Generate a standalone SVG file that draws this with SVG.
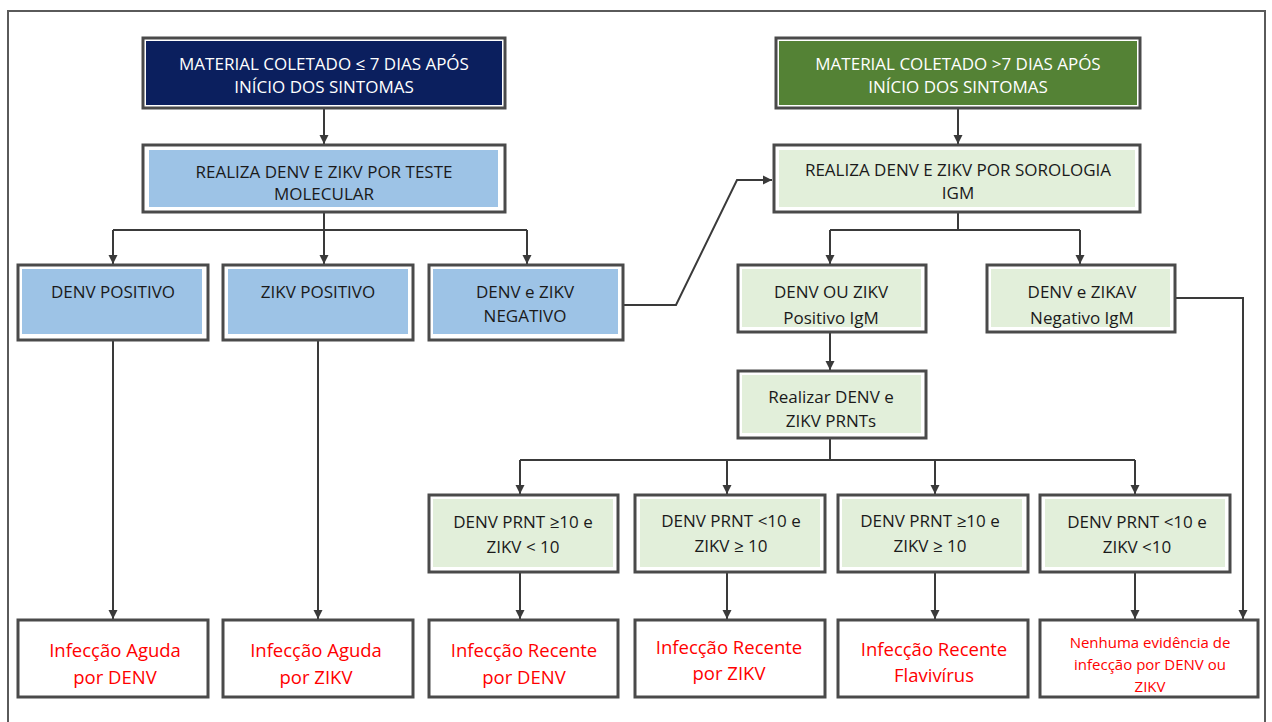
<svg xmlns="http://www.w3.org/2000/svg" width="1272" height="722" viewBox="0 0 1272 722">
  <defs>
    <marker id="arrow" viewBox="0 0 10 10" refX="10" refY="5" markerWidth="9" markerHeight="10" markerUnits="userSpaceOnUse" orient="auto">
      <path d="M0,0 L10,5 L0,10 z" fill="#3a3a3a"/>
    </marker>
    <style>
      .frame { fill: none; stroke: #5a5a5a; stroke-width: 2; }
      .box { fill: #ffffff; stroke: #4a4a4a; stroke-width: 3; }
      .navy { fill: #0b1f5e; }
      .green { fill: #548235; }
      .blue { fill: #9dc3e6; }
      .pale { fill: #e2efda; }
      .link { fill: none; stroke: #3a3a3a; stroke-width: 2; }
      .arr { marker-end: url(#arrow); }
      text { font-family: "Open Sans", "Liberation Sans", sans-serif; text-anchor: middle; }
      .hdr { fill: #ffffff; font-size: 17px; }
      .lbl { fill: #1a1a1a; font-size: 17px; }
      .res { fill: #ff0000; font-size: 18.5px; }
      .res-sm { fill: #ff0000; font-size: 15px; }
    </style>
  </defs>

  <rect x="0" y="0" width="1272" height="722" fill="#ffffff"/>
  <path class="frame" d="M8,730 V11 H1265 V730"/>

  <!-- connectors -->
  <g id="connectors">
    <path class="link arr" d="M324,108 V144"/>
    <path class="link" d="M324,212 V230 M113,230 H527"/>
    <path class="link arr" d="M113,230 V264"/>
    <path class="link arr" d="M324,230 V264"/>
    <path class="link arr" d="M527,230 V264"/>
    <path class="link arr" d="M113,340 V619"/>
    <path class="link arr" d="M318,340 V619"/>
    <path class="link arr" d="M623,305 H676 L737,180 H772"/>

    <path class="link arr" d="M958,108 V144"/>
    <path class="link" d="M958,212 V230 M830,230 H1080"/>
    <path class="link arr" d="M830,230 V264"/>
    <path class="link arr" d="M1080,230 V264"/>
    <path class="link arr" d="M830,332 V370"/>
    <path class="link arr" d="M1175,298 H1243 V619"/>

    <path class="link" d="M830,438 V460 M520,460 H1135"/>
    <path class="link arr" d="M520,460 V494"/>
    <path class="link arr" d="M727,460 V494"/>
    <path class="link arr" d="M935,460 V494"/>
    <path class="link arr" d="M1135,460 V494"/>
    <path class="link arr" d="M520,572 V619"/>
    <path class="link arr" d="M727,572 V619"/>
    <path class="link arr" d="M935,572 V619"/>
    <path class="link arr" d="M1135,572 V619"/>
  </g>

  <!-- early collection branch -->
  <g id="hdr-early">
    <rect class="box" x="143" y="38" width="362" height="70"/>
    <rect class="navy" x="146" y="41" width="356" height="64"/>
    <text class="hdr" x="324" y="70">MATERIAL COLETADO ≤ 7 DIAS APÓS</text>
    <text class="hdr" x="324" y="93">INÍCIO DOS SINTOMAS</text>
  </g>
  <g id="molecular">
    <rect class="box" x="143" y="145" width="362" height="67"/>
    <rect class="blue" x="149" y="150" width="349" height="57"/>
    <text class="lbl" x="324" y="178">REALIZA DENV E ZIKV POR TESTE</text>
    <text class="lbl" x="324" y="200">MOLECULAR</text>
  </g>
  <g id="denv-pos">
    <rect class="box" x="18" y="265" width="190" height="75"/>
    <rect class="blue" x="22" y="269" width="180" height="65"/>
    <text class="lbl" x="113" y="298">DENV POSITIVO</text>
  </g>
  <g id="zikv-pos">
    <rect class="box" x="223" y="265" width="190" height="75"/>
    <rect class="blue" x="228" y="269" width="180" height="65"/>
    <text class="lbl" x="318" y="298">ZIKV POSITIVO</text>
  </g>
  <g id="mol-neg">
    <rect class="box" x="429" y="265" width="194" height="75"/>
    <rect class="blue" x="433" y="269" width="185" height="65"/>
    <text class="lbl" x="525" y="298">DENV e ZIKV</text>
    <text class="lbl" x="525" y="322">NEGATIVO</text>
  </g>

  <!-- late collection branch -->
  <g id="hdr-late">
    <rect class="box" x="776" y="38" width="364" height="70"/>
    <rect class="green" x="779" y="41" width="358" height="64"/>
    <text class="hdr" x="958" y="70">MATERIAL COLETADO &gt;7 DIAS APÓS</text>
    <text class="hdr" x="958" y="93">INÍCIO DOS SINTOMAS</text>
  </g>
  <g id="serology">
    <rect class="box" x="774" y="145" width="366" height="67"/>
    <rect class="pale" x="779" y="150" width="356" height="57"/>
    <text class="lbl" x="958" y="176">REALIZA DENV E ZIKV POR SOROLOGIA</text>
    <text class="lbl" x="958" y="199">IGM</text>
  </g>
  <g id="igm-pos">
    <rect class="box" x="738" y="265" width="188" height="67"/>
    <rect class="pale" x="742" y="269" width="179" height="58"/>
    <text class="lbl" x="831" y="298">DENV OU ZIKV</text>
    <text class="lbl" x="831" y="324">Positivo IgM</text>
  </g>
  <g id="igm-neg">
    <rect class="box" x="987" y="265" width="188" height="67"/>
    <rect class="pale" x="991" y="269" width="179" height="58"/>
    <text class="lbl" x="1082" y="298">DENV e ZIKAV</text>
    <text class="lbl" x="1082" y="324">Negativo IgM</text>
  </g>
  <g id="prnt">
    <rect class="box" x="738" y="371" width="188" height="67"/>
    <rect class="pale" x="742" y="375" width="179" height="58"/>
    <text class="lbl" x="831" y="403">Realizar DENV e</text>
    <text class="lbl" x="831" y="427">ZIKV PRNTs</text>
  </g>

  <!-- PRNT outcomes -->
  <g id="prnt-denv">
    <rect class="box" x="429" y="495" width="189" height="77"/>
    <rect class="pale" x="433" y="499" width="180" height="68"/>
    <text class="lbl" x="523" y="528">DENV PRNT ≥10 e</text>
    <text class="lbl" x="523" y="553">ZIKV &lt; 10</text>
  </g>
  <g id="prnt-zikv">
    <rect class="box" x="635" y="495" width="190" height="77"/>
    <rect class="pale" x="640" y="499" width="180" height="68"/>
    <text class="lbl" x="731" y="527">DENV PRNT &lt;10 e</text>
    <text class="lbl" x="731" y="552">ZIKV ≥ 10</text>
  </g>
  <g id="prnt-both">
    <rect class="box" x="838" y="495" width="190" height="77"/>
    <rect class="pale" x="842" y="499" width="180" height="68"/>
    <text class="lbl" x="930" y="527">DENV PRNT ≥10 e</text>
    <text class="lbl" x="930" y="552">ZIKV ≥ 10</text>
  </g>
  <g id="prnt-none">
    <rect class="box" x="1040" y="495" width="190" height="77"/>
    <rect class="pale" x="1045" y="499" width="180" height="68"/>
    <text class="lbl" x="1137" y="528">DENV PRNT &lt;10 e</text>
    <text class="lbl" x="1137" y="553">ZIKV &lt;10</text>
  </g>

  <!-- final results -->
  <g id="res-denv-acute">
    <rect class="box" x="18" y="620" width="190" height="77"/>
    <text class="res" x="115" y="657">Infecção Aguda</text>
    <text class="res" x="115" y="684">por DENV</text>
  </g>
  <g id="res-zikv-acute">
    <rect class="box" x="223" y="620" width="190" height="77"/>
    <text class="res" x="316" y="657">Infecção Aguda</text>
    <text class="res" x="316" y="684">por ZIKV</text>
  </g>
  <g id="res-denv-recent">
    <rect class="box" x="429" y="620" width="189" height="77"/>
    <text class="res" x="524" y="657">Infecção Recente</text>
    <text class="res" x="524" y="684">por DENV</text>
  </g>
  <g id="res-zikv-recent">
    <rect class="box" x="635" y="620" width="190" height="77"/>
    <text class="res" x="729" y="654">Infecção Recente</text>
    <text class="res" x="729" y="680">por ZIKV</text>
  </g>
  <g id="res-flavi">
    <rect class="box" x="838" y="620" width="190" height="77"/>
    <text class="res" x="934" y="656">Infecção Recente</text>
    <text class="res" x="934" y="682">Flavivírus</text>
  </g>
  <g id="res-none">
    <rect class="box" x="1040" y="620" width="218" height="77"/>
    <text class="res-sm" x="1150" y="648">Nenhuma evidência de</text>
    <text class="res-sm" x="1150" y="670">infecção por DENV ou</text>
    <text class="res-sm" x="1150" y="692">ZIKV</text>
  </g>
</svg>
